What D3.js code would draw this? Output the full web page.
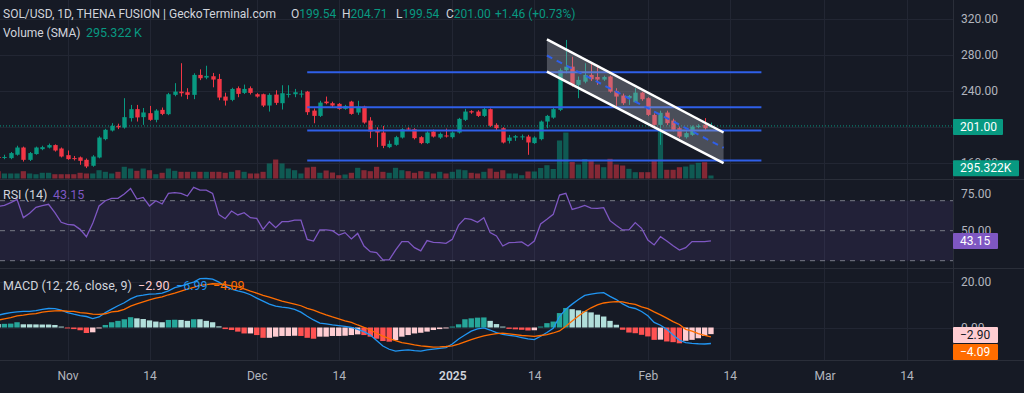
<!DOCTYPE html>
<html><head><meta charset="utf-8">
<script src="https://cdn.jsdelivr.net/npm/d3@7"></script>
<style>
html,body{margin:0;padding:0;background:#161a25;overflow:hidden}
svg{display:block}
text{font-family:Roboto,"Noto Sans",sans-serif}
</style>
</head><body>
<svg id="chart" width="1024" height="393"></svg>
<script>
// ---------------- DATA ----------------
const startDay = "2024-10-21"; // first daily candle
const open = [166.5,165.5,165.2,169,177,163.3,169.7,175.2,177,179.7, 175.9,168.5,165.2,166,163.3,156.7,165.9,186.3,195.9,201, 199.2,209.7,219.7,210.8,215.2,207.8,218.9,214.1,235.6,239.2, 238.5,235.6,257.8,254.8,256.3,253.3,233.7,230,243,237.8, 243,236.3,236.3,223.7,235.9,226.3,235.6,236.3,236.8,239.2, 218.1,212.2,228.1,226.3,225.6,220,228.1,215.9,222.6,207, 196.7,193.7,177.4,180,188.1,198.1,197.4,188.5,181.9,194.8, 188.1,190.4,188.5,193.7,207.8,217.4,217,212.2,219.7,202.2, 198.5,184.4,188.1,189,189.2,181.9,186.3,205.9,210.3,218.9, 263,267,246.7,250.3,257.8,255.5,252.6,256,240,234.8, 231.9,227.4,238.1,231.9,213.3,202.2,215.9,207,198.5,188.5, 191.1,200,202.2,199.54];
const high = [168,169,172,179,178,172,178,179,181.4,180.5, 177,173.7,167.6,167,164.8,168.5,189.5,197.8,204.1,203.5, 231.9,224.4,224.4,221,223.3,219.7,221.5,237.8,248.6,270.8, 243,259.6,264,268,260,258.9,238,243.5,245,247, 245,237.5,237,237.4,240.7,246.3,246.3,242.2,240.7,240, 220.5,229,233.7,228,226.5,224.5,229,229,223.5,210.8, 199.6,201,184.8,190,198.5,199.5,198.5,189.6,195,197, 193.7,198.1,195,210,220,218.5,218.5,221,220.5,204, 199.6,191,191,191.5,191.1,189.5,207,213.3,221.5,265, 296.7,278,256,270.8,270,268.9,257,257,243,237, 235.5,243,239,233,215,218,218,209,200.3,195, 201.5,203,209.7,204.71];
const low = [164,164,164,168,161.4,162,169,174,176,172.5, 166,163.3,162.6,157.8,154.1,155.6,165,185,194.8,197.5, 198,205.9,205.9,202.2,206.7,205,213,213,234,233.7, 230.8,230.8,252,253,244,229.6,223.7,228.5,233,236.5, 236,232.5,222,217,224.4,219.3,232.6,233,232.6,213.3, 204,211,225,222,219,219,213.5,213.3,203.5,187.4, 177.4,176.3,176.3,179,187,195.5,186,180.7,181,188.1, 186.6,188.1,187,192.6,206.5,214.5,211,211,200,196, 181.5,181.5,184.4,185.5,168.9,181,185,198.5,209,217.5, 259.6,244.8,231.9,248.5,251,246.7,251,238,222.6,224.4, 224.4,227,229,212,198.9,180,202,195,187.4,187, 190,198.5,196.7,199.54];
const close = [165.5,166.5,170.8,177,163.3,170.8,177,177.4,179.7,173.7, 167,164.1,164.5,162.2,155.9,167,188.1,196.7,201.1,199.5, 210.8,219.7,210.5,216,207.8,218.1,214.4,236.3,239.2,237.4, 235.6,257.8,254.1,256.7,252.6,232.6,229.2,242.2,236.7,242.2, 237.8,233.7,223.7,235.6,226.7,237.4,236.7,238.5,237,216.3, 212.2,227,226.3,223.7,220,223.3,214.4,222.6,204.8,194.8, 193.7,178.9,181.1,188.5,197.4,197,187.4,181.9,193.7,189.2, 192.2,189.6,193.7,208.9,217,216,212.2,219.7,201.1,198.5, 182.6,188.1,189.6,189.4,182.6,188.1,205.9,212.2,219.7,263, 267,246.7,252.2,257.8,253,252.6,255.5,239.2,233.7,226.3, 234.4,238.1,230.8,213.3,202.2,215.6,204.1,196.7,189.2,193, 200.3,201,198.5,201.00];
const volumeK = [210,144,144,144,210,144,123,164,164,123, 123,123,123,164,144,144,238,192,144,192, 336,287,221,287,238,123,164,287,221,192, 192,192,192,192,192,192,164,192,238,192, 144,144,192,431,545,431,287,238,144,316, 336,164,230,172,95,115,164,307,238,210, 336,192,164,307,238,210,164,210,192,144, 192,144,192,258,238,164,144,192,287,192, 238,144,144,95,201,201,301,382,273,1091, 1320,474,402,560,502,402,324,565,402,373, 278,181,181,181,537,1378,250,250,324,344, 402,451,468,86];
const rsi = [66.2,66.9,68.7,70.9,58.7,61.6,65.6,66.7,67.6,62.0, 55.6,54.2,53.8,50.9,46.0,54.9,66.5,70.0,71.6,71.6, 74.5,78.2,71.1,72.2,66.5,70.0,67.8,74.9,75.4,74.9, 73.1,78.9,77.1,77.1,74.9,60.7,58.0,63.1,60.5,62.0, 58.7,58.2,50.9,56.0,52.0,56.0,56.0,57.1,57.1,44.2, 43.1,50.5,50.5,50.0,47.1,48.7,44.5,48.2,39.8,36.0, 35.4,30.5,30.5,37.1,42.7,42.7,38.7,36.5,43.4,42.2, 42.0,41.6,44.2,53.8,58.2,57.6,55.6,58.7,48.7,46.5, 39.8,42.0,42.2,42.5,39.8,43.1,54.5,57.6,60.9,73.8, 74.9,64.2,65.4,66.9,65.1,64.9,65.4,56.7,53.4,50.5, 50.5,55.4,51.6,43.8,40.5,46.0,43.1,40.0,37.1,38.7, 42.7,42.7,42.7,43.15];
const macdLine = [5.4,6.0,6.5,6.8,7.0,7.0,7.4,7.9,8.3,8.2, 7.6,6.5,5.8,5.2,4.8,3.9,4.6,6.5,8.0,9.5, 10.8,12.5,13.7,14.1,14.6,14.7,15.0,16.0,17.4,18.1, 19.0,19.8,21.3,21.4,21.1,19.8,18.1,16.8,16.0,15.3, 14.3,12.8,11.5,10.2,9.3,8.9,8.6,7.9,6.7,4.9, 3.3,1.9,1.6,1.1,0.8,0.5,0.0,-0.8,-1.8,-3.3, -5.7,-8.1,-9.5,-10.3,-10.0,-9.8,-10.1,-10.3,-9.8,-9.4, -9.1,-8.8,-7.2,-5.0,-3.3,-1.6,-0.6,-0.2,-1.1,-2.2, -3.0,-3.4,-3.8,-4.4,-5.0,-5.3,-3.8,-2.2,-0.3,4.8, 8.0,10.2,12.2,14.0,14.6,15.0,15.2,13.6,12.2,10.3, 8.9,8.3,7.0,5.1,2.2,1.0,-0.8,-3.3,-5.5,-6.6, -6.9,-7.1,-7.2,-6.99];
const signalLine = [3.2,3.8,4.3,5.1,5.4,5.8,6.1,6.7,7.0,7.3, 7.4,7.1,7.0,6.5,6.3,5.8,5.7,6.0,6.8,7.1, 7.9,9.3,10.3,11.2,12.1,12.8,13.4,14.3,15.0,15.9, 16.8,17.5,18.4,18.7,19.1,19.0,18.7,18.2,17.7,16.9, 15.9,15.0,14.0,13.3,12.4,11.5,10.9,10.2,9.5,8.4, 7.6,6.5,5.5,4.6,3.8,2.9,2.2,1.1,0.1,-1.1, -2.5,-3.8,-4.9,-5.7,-6.6,-7.0,-7.6,-8.0,-8.3,-8.6, -8.5,-8.3,-8.0,-7.3,-6.3,-5.3,-4.4,-3.7,-3.1,-2.7, -2.5,-2.8,-3.1,-3.5,-3.7,-3.9,-3.5,-3.1,-2.4,-1.5, 0.5,2.8,5.0,7.0,8.6,9.9,10.7,11.1,11.3,11.2, 10.5,10.1,9.0,8.2,6.8,5.5,4.1,2.6,1.3,-0.8, -1.6,-2.7,-3.4,-4.09];
const histogram = [1.5,1.6,1.7,2.3,1.4,1.4,1.35,1.3,1.3,1.1, 0.4,-0.4,-0.7,-1.2,-2.4,-2.1,-0.4,1.1,2.3,2.9, 3.6,4.5,4.0,3.7,3.1,2.6,2.3,3.3,3.4,3.3, 2.9,3.6,3.6,2.9,2.3,0.5,-0.7,-1.1,-1.8,-2.6, -2.6,-3.3,-4.5,-4.5,-4.0,-3.7,-3.7,-3.6,-3.7,-4.5, -4.9,-4.0,-4.0,-3.7,-3.7,-3.6,-3.3,-3.0,-3.3,-4.0, -4.9,-5.9,-6.2,-5.5,-4.0,-3.3,-2.6,-2.3,-1.8,-1.1, -0.7,-0.4,0.4,1.4,3.6,4.0,4.3,4.4,2.9,1.5, 0.4,-0.6,-0.8,-1.0,-1.3,-1.2,0.4,1.9,2.6,6.3, 8.5,8.0,7.5,7.0,6.6,5.6,4.8,2.9,1.2,-1.0, -2.2,-2.5,-3.2,-3.9,-5.4,-5.3,-6.1,-6.4,-6.9,-5.8, -5.4,-4.7,-3.7,-2.90];

const timeTickDates = ["2024-11-01","2024-11-14","2024-12-01","2024-12-14","2025-01-01","2025-01-14","2025-02-01","2025-02-14","2025-03-01","2025-03-14"];
const timeTickLabels = ["Nov","14","Dec","14","2025","14","Feb","14","Mar","14"];
const priceTicks = [160,200,240,280,320];
const rsiTicks = [75,50];
const rsiBands = [70,50,30];
const macdTicks = [20,0];
// drawings
const levelPrices = [260.8,221.9,195.9,162.6];
const levelRange = ["2024-12-09","2025-02-19"];
const channelDates = ["2025-01-16","2025-02-13"];
const channelUpper = [297.4,193.7];
const channelLower = [261.4,159.7];
const lastPrice = 201.00, volSMA = 295.322, rsiLast = 43.15, histLast = -2.90, macdLast = -6.99, sigLast = -4.09;
const changeText = "+1.46 (+0.73%)";

// ---------------- SETUP ----------------
const P = d => new Date(d + "T00:00:00Z");
const t0 = P(startDay).getTime();
const dates = close.map((_, i) => new Date(t0 + i * 864e5));
const bars = close.map((c, i) => ({d: dates[i], o: open[i], h: high[i], l: low[i], c, v: volumeK[i]}));

const svg = d3.select("#chart");
const W = 1024, H = 393, R = 953;
const BG = "#161a25", GRID = "#222633", TXT = "#b2b5be", UP = "#089981", DN = "#f23645";

const x = d3.scaleUtc().domain([P("2024-11-01"), P("2025-03-14")]).range([67.5, 906.5]);
const y = d3.scaleLinear().domain([160, 320]).range([162.8, 19]);
const yv = d3.scaleLinear().domain([0, 2870]).range([178.5, 78.5]);
const yr = d3.scaleLinear().domain([30, 70]).range([260.7, 200.7]);
const ym = d3.scaleLinear().domain([0, 20]).range([327.5, 281.7]);

svg.append("rect").attr("width", W).attr("height", H).attr("fill", BG);

const defs = svg.append("defs");
defs.append("clipPath").attr("id", "cp").append("rect").attr("x", 0).attr("y", 0).attr("width", R).attr("height", 179);
defs.append("clipPath").attr("id", "cr").append("rect").attr("x", 0).attr("y", 180).attr("width", R).attr("height", 88);
defs.append("clipPath").attr("id", "cm").append("rect").attr("x", 0).attr("y", 269).attr("width", R).attr("height", 91);

// grid
const grid = svg.append("g");
timeTickDates.forEach(d => {
  grid.append("line").attr("x1", Math.round(x(P(d))) + 0.5).attr("x2", Math.round(x(P(d))) + 0.5)
    .attr("y1", 0).attr("y2", 360).attr("stroke", GRID);
});
priceTicks.forEach(v => grid.append("line").attr("x1", 0).attr("x2", R).attr("y1", Math.round(y(v)) + 0.5).attr("y2", Math.round(y(v)) + 0.5).attr("stroke", GRID));
macdTicks.forEach(v => grid.append("line").attr("x1", 0).attr("x2", R).attr("y1", Math.round(ym(v)) + 0.5).attr("y2", Math.round(ym(v)) + 0.5).attr("stroke", GRID));

// ---------- price pane ----------
const pp = svg.append("g").attr("clip-path", "url(#cp)");
pp.selectAll("rect.vol").data(bars).join("rect").attr("class", "vol")
  .attr("x", d => x(d.d) - 2.6).attr("width", 5.2)
  .attr("y", d => yv(d.v)).attr("height", d => yv(0) - yv(d.v))
  .attr("fill", d => d.c >= d.o ? "rgba(8,153,129,0.5)" : "rgba(242,54,69,0.5)");
pp.selectAll("line.wick").data(bars).join("line").attr("class", "wick")
  .attr("x1", d => Math.round(x(d.d)) + 0.5).attr("x2", d => Math.round(x(d.d)) + 0.5)
  .attr("y1", d => y(d.h)).attr("y2", d => y(d.l))
  .attr("stroke", d => d.c >= d.o ? UP : DN).attr("stroke-width", 1);
pp.selectAll("rect.body").data(bars).join("rect").attr("class", "body")
  .attr("x", d => Math.round(x(d.d)) + 0.5 - 2.2).attr("width", 4.4)
  .attr("y", d => y(Math.max(d.o, d.c))).attr("height", d => Math.max(1, Math.abs(y(d.o) - y(d.c))))
  .attr("fill", d => d.c >= d.o ? UP : DN);

// current price dotted line
pp.append("line").attr("x1", 0).attr("x2", R).attr("y1", y(lastPrice)).attr("y2", y(lastPrice))
  .attr("stroke", UP).attr("stroke-dasharray", "1,2");

// horizontal levels
levelPrices.forEach(v => pp.append("line")
  .attr("x1", x(P(levelRange[0]))).attr("x2", x(P(levelRange[1])))
  .attr("y1", y(v)).attr("y2", y(v)).attr("stroke", "#2f5fe8").attr("stroke-width", 2));

// descending channel
const c0 = x(P(channelDates[0])), c1 = x(P(channelDates[1]));
pp.append("path").attr("d", `M${c0},${y(channelUpper[0])}L${c1},${y(channelUpper[1])}L${c1},${y(channelLower[1])}L${c0},${y(channelLower[0])}Z`)
  .attr("fill", "rgba(160,163,175,0.38)");
pp.append("line").attr("x1", c0).attr("x2", c1)
  .attr("y1", y((channelUpper[0] + channelLower[0]) / 2)).attr("y2", y((channelUpper[1] + channelLower[1]) / 2))
  .attr("stroke", "#2f5fe8").attr("stroke-width", 2).attr("stroke-dasharray", "6,5");
[channelUpper, channelLower].forEach(a => pp.append("line").attr("x1", c0).attr("x2", c1)
  .attr("y1", y(a[0])).attr("y2", y(a[1])).attr("stroke", "#ffffff").attr("stroke-width", 2.5));

// ---------- RSI pane ----------
const rp = svg.append("g").attr("clip-path", "url(#cr)");
rp.append("rect").attr("x", 0).attr("width", R).attr("y", yr(70)).attr("height", yr(30) - yr(70)).attr("fill", "rgba(126,87,194,0.12)");
rsiBands.forEach(v => rp.append("line").attr("x1", 0).attr("x2", R).attr("y1", yr(v)).attr("y2", yr(v))
  .attr("stroke", "#787b86").attr("stroke-dasharray", "5,5"));
rp.append("path").datum(bars.map((b, i) => [x(b.d), yr(rsi[i])]))
  .attr("d", d3.line()).attr("fill", "none").attr("stroke", "#7e57c2").attr("stroke-width", 1.3);

// ---------- MACD pane ----------
const mp = svg.append("g").attr("clip-path", "url(#cm)");
mp.selectAll("rect.h").data(histogram).join("rect").attr("class", "h")
  .attr("x", (v, i) => x(dates[i]) - 2.7).attr("width", 5.4)
  .attr("y", v => Math.min(ym(v), ym(0))).attr("height", v => Math.abs(ym(v) - ym(0)))
  .attr("fill", (v, i) => {
    const prev = i > 0 ? histogram[i - 1] : v;
    if (v >= 0) return v > prev ? "#26a69a" : "#b2dfdb";
    return v < prev ? "#ff5252" : "#ffcdd2";
  });
mp.append("path").datum(bars.map((b, i) => [x(b.d), ym(macdLine[i])]))
  .attr("d", d3.line()).attr("fill", "none").attr("stroke", "#2196f3").attr("stroke-width", 1.3);
mp.append("path").datum(bars.map((b, i) => [x(b.d), ym(signalLine[i])]))
  .attr("d", d3.line()).attr("fill", "none").attr("stroke", "#ff6d00").attr("stroke-width", 1.3);

// ---------- separators ----------
[179.5, 268.5, 360.5].forEach(v => svg.append("line").attr("x1", 0).attr("x2", W).attr("y1", v).attr("y2", v).attr("stroke", "#2a2e39"));
svg.append("line").attr("x1", R + 0.5).attr("x2", R + 0.5).attr("y1", 0).attr("y2", 360).attr("stroke", "#2a2e39");

// ---------- axes ----------
const axP = svg.append("g").attr("transform", `translate(${R},0)`)
  .call(d3.axisRight(y).tickValues(priceTicks).tickFormat(d3.format(".2f")).tickSize(0).tickPadding(8));
const axR = svg.append("g").attr("transform", `translate(${R},0)`)
  .call(d3.axisRight(yr).tickValues(rsiTicks).tickFormat(d3.format(".2f")).tickSize(0).tickPadding(8));
const axM = svg.append("g").attr("transform", `translate(${R},0)`)
  .call(d3.axisRight(ym).tickValues(macdTicks).tickFormat(d3.format(".2f")).tickSize(0).tickPadding(8));
const axT = svg.append("g").attr("transform", "translate(0,361)")
  .call(d3.axisBottom(x).tickValues(timeTickDates.map(P)).tickFormat((d, i) => timeTickLabels[i]).tickSize(0).tickPadding(10));
[axP, axR, axM, axT].forEach(a => {
  a.select(".domain").remove();
  a.selectAll("text").attr("fill", TXT).attr("font-size", 12).attr("font-family", "Roboto, sans-serif");
});
axT.selectAll("text").filter((d, i) => timeTickLabels[i] === "2025").attr("fill", "#d1d4dc").attr("font-weight", 600);

// axis value labels
function tag(cy, w, fill, txt, color) {
  const g = svg.append("g");
  g.append("rect").attr("x", R).attr("y", cy - 8).attr("width", w).attr("height", 16).attr("rx", 1).attr("fill", fill);
  g.append("text").attr("x", R + 7).attr("y", cy).attr("dy", "0.35em").attr("font-size", 12).attr("fill", color).text(txt);
}
tag(y(lastPrice) + 1, 50, UP, d3.format(".2f")(lastPrice), "#ffffff");
tag(yv(volSMA), 66, UP, d3.format(".3f")(volSMA) + "K", "#ffffff");
tag(yr(rsiLast), 45, "#7e57c2", d3.format(".2f")(rsiLast), "#ffffff");
tag(335, 45, "#ffcdd2", "\u2212" + d3.format(".2f")(-histLast), "#131722");
tag(352, 45, "#ff6d00", "\u2212" + d3.format(".2f")(-sigLast), "#ffffff");

// ---------- legends ----------
const F = 13;
const legend = (yy, x0, txt, fill, fs) =>
  svg.append("text").attr("x", x0).attr("y", yy).attr("font-size", fs || F).attr("fill", fill).text(txt);

legend(17.5, 3, "SOL/USD, 1D, THENA FUSION | GeckoTerminal.com", "#d1d4dc", 12);
const ohlc = [["O", open[open.length - 1], 291], ["H", high[high.length - 1], 342], ["L", low[low.length - 1], 396], ["C", close[close.length - 1], 446]];
ohlc.forEach(([k, v, px]) => {
  const t = svg.append("text").attr("x", px).attr("y", 17.5).attr("font-size", 12);
  t.append("tspan").attr("fill", "#d1d4dc").text(k);
  t.append("tspan").attr("fill", UP).text(d3.format(".2f")(v));
});
legend(17.5, 495, changeText, UP, 12);

legend(36.5, 3, "Volume (SMA)", "#d1d4dc", 12);
legend(36.5, 86, d3.format(".3f")(volSMA) + "\u2009K", UP, 12.5);

legend(198.5, 3, "RSI (14)", "#d1d4dc", 12.5);
legend(198.5, 53, d3.format(".2f")(rsiLast), "#7e57c2", 12.5);

legend(290, 3, "MACD (12, 26, close, 9)", "#d1d4dc", 12.5);
legend(290, 138, "\u2212" + d3.format(".2f")(-histLast), "#ffcdd2", 12.5);
legend(290, 176, "\u2212" + d3.format(".2f")(-macdLast), "#2196f3", 12.5);
legend(290, 213, "\u2212" + d3.format(".2f")(-sigLast), "#ff6d00", 12.5);
</script>
</body></html>
